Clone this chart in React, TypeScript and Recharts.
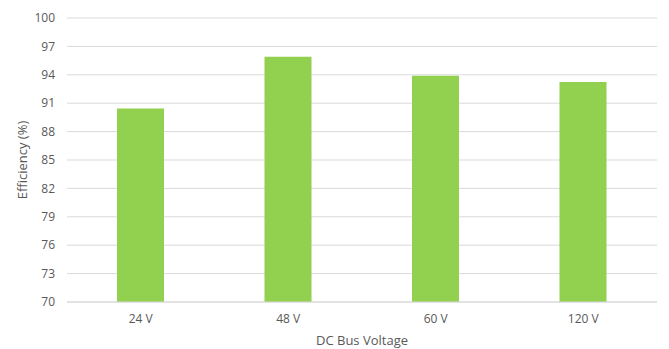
import React from 'react';
import { BarChart, Bar, XAxis, YAxis, CartesianGrid, Label } from 'recharts';

const voltages = ['24 V', '48 V', '60 V', '120 V'];
const efficiency = [90.45, 95.9, 93.9, 93.25];
const yTicks = [70, 73, 76, 79, 82, 85, 88, 91, 94, 97, 100];

const data = voltages.map((v, i) => ({ voltage: v, efficiency: efficiency[i] }));

const font = '"Open Sans", "Noto Sans", sans-serif';
const textColor = '#595959';

const App = () => {
    return (
        <div style={{ position: 'absolute', left: 0, top: 0, background: '#fff' }}>
            <BarChart
                width={669}
                height={349}
                data={data}
                margin={{ top: 18, right: 12, bottom: 0, left: 0 }}
                style={{ fontFamily: font }}
            >
                <CartesianGrid vertical={false} stroke="#d9d9d9" />
                <XAxis
                    dataKey="voltage"
                    height={47}
                    tickLine={false}
                    axisLine={{ stroke: '#d9d9d9' }}
                    tick={{ fill: textColor, fontSize: 12 }}
                    tickMargin={6}
                >
                    <Label
                        value="DC Bus Voltage"
                        position="insideBottom"
                        offset={4}
                        style={{ fill: textColor, fontSize: 13 }}
                    />
                </XAxis>
                <YAxis
                    width={67}
                    domain={[70, 100]}
                    ticks={yTicks}
                    interval={0}
                    tickLine={false}
                    axisLine={false}
                    tick={{ fill: textColor, fontSize: 12 }}
                    tickMargin={6}
                >
                    <Label
                        value="Efficiency (%)"
                        angle={-90}
                        position="insideLeft"
                        offset={22}
                        style={{ fill: textColor, fontSize: 13, textAnchor: 'middle' }}
                    />
                </YAxis>
                <Bar dataKey="efficiency" fill="#92d050" barSize={47} isAnimationActive={false} />
            </BarChart>
        </div>
    );
};

export default App;
